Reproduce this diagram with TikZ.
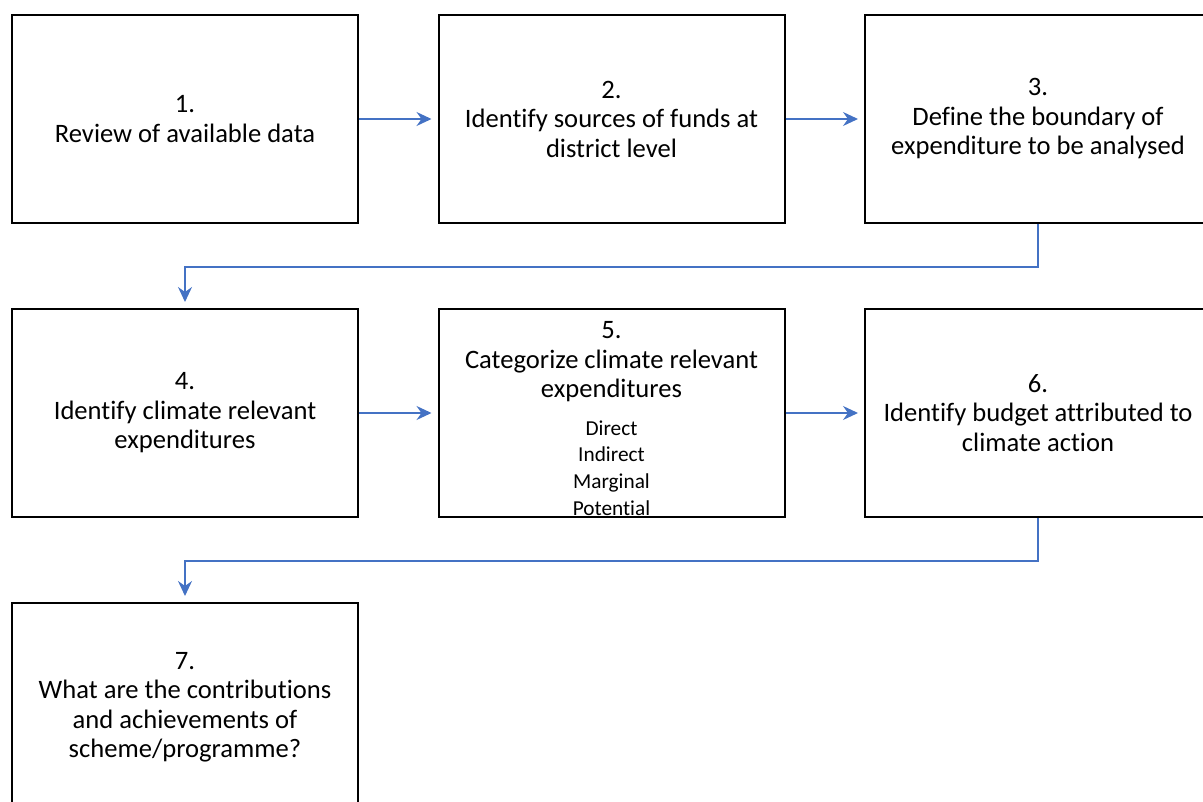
\documentclass[tikz,border=0pt]{standalone}
\usepackage{fontspec}
\setmainfont{Carlito}[Ligatures=NoCommon]
\usetikzlibrary{arrows.meta}
\definecolor{conncol}{RGB}{68,114,196}
\begin{document}
\begin{tikzpicture}[x=1pt,y=-1pt,
  box/.style={draw=black,line width=2pt,minimum width=346pt,minimum height=208pt,inner sep=0pt,align=center,font=\fontsize{26.6}{29.5}\selectfont},
  txt/.style={align=center,inner sep=0pt,font=\fontsize{26.6}{29.5}\selectfont},
  small/.style={align=center,inner sep=0pt,font=\fontsize{21.3}{26.7}\selectfont},
  conn/.style={draw=conncol,line width=1.5pt,-{Stealth[length=15pt,width=14pt,inset=5pt]},shorten >=6pt}]
\useasboundingbox (0,0) rectangle (1203,802);
\clip (0,0) rectangle (1203,802);
\node[box] (b1) at (185,119) {1.\\Review of available data};
\node[box] (b2) at (611.5,119) {2.\\Identify sources of funds at\\district level};
\node[box] (b3) at (1038,119) {3.\\Define the boundary of\\expenditure to be analysed};
\node[box] (b4) at (185,413) {4.\\Identify climate relevant\\expenditures};
\node[box] (b5) at (611.5,413) {};
\node[txt] (t5a) at (611.5,362) {5.\\Categorize climate relevant\\expenditures};
\node[small] (t5b) at (611.5,468) {Direct\\Indirect\\Marginal\\Potential};
\node[box] (b6) at (1038,413) {6.\\Identify budget attributed to\\climate action};
\node[box] (b7) at (185,707) {7.\\What are the contributions\\and achievements of\\scheme/programme?};
\draw[conn] (b1.east) -- (b2.west);
\draw[conn] (b2.east) -- (b3.west);
\draw[conn] (b3.south) -- ++(0,43) -| (b4.north);
\draw[conn] (b4.east) -- (b5.west);
\draw[conn] (b5.east) -- (b6.west);
\draw[conn] (b6.south) -- ++(0,43) -| (b7.north);
\end{tikzpicture}
\end{document}
